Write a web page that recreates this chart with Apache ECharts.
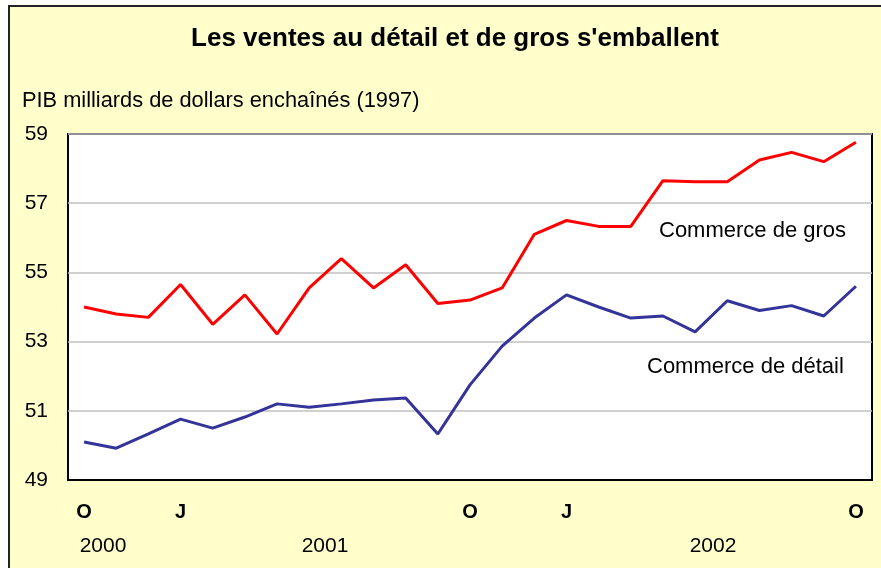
<!DOCTYPE html>
<html>
<head>
<meta charset="utf-8">
<script src="https://cdn.jsdelivr.net/npm/echarts@6/dist/echarts.min.js"></script>
<style>
  html, body { margin: 0; padding: 0; background: #fff; }
  #chart { width: 881px; height: 568px; }
</style>
</head>
<body>
<div id="chart"></div>
<script>
// mois d'octobre 2000 à octobre 2002
var months = ['O','N','D','J','F','M','A','M','J','J','A','S','O','N','D','J','F','M','A','M','J','J','A','S','O'];
var shownMonths = [0, 3, 12, 15, 24];   // seuls O et J sont affichés
var years = ['2000', '2001', '2002'];

// PIB, milliards de dollars enchaînés (1997)
var gros = [54.0, 53.8, 53.7, 54.65, 53.5, 54.35, 53.22, 54.55, 55.4, 54.55, 55.22, 54.1,
            54.2, 54.55, 56.1, 56.5, 56.33, 56.33, 57.65, 57.62, 57.62, 58.25, 58.47, 58.2, 58.76];
var detail = [50.1, 49.92, 50.33, 50.76, 50.5, 50.82, 51.2, 51.1, 51.2, 51.31, 51.37, 50.33,
              51.75, 52.87, 53.68, 54.35, 54.0, 53.68, 53.74, 53.28, 54.18, 53.9, 54.04, 53.74, 54.6];

var font = '"Liberation Sans", Arial, sans-serif';
var chart = echarts.init(document.getElementById('chart'));

function txt(x, y, s, size, align, bold) {
    return {
        type: 'text', x: x, y: y,
        style: {
            text: s, font: (bold ? 'bold ' : '') + size + 'px ' + font, fill: '#000',
            align: align, verticalAlign: 'middle'
        }
    };
}

var option = {
    backgroundColor: '#fff',
    animation: false,
    textStyle: { fontFamily: font },
    graphic: [
        {
            type: 'rect', z: -10,
            shape: { x: 9, y: 6, width: 900, height: 600 },
            style: { fill: '#FFFFCC', stroke: '#222', lineWidth: 2 }
        },
        txt(455, 39, "Les ventes au détail et de gros s'emballent", 26, 'center', true),
        txt(22, 101, 'PIB milliards de dollars enchaînés (1997)', 21.8, 'left'),
        txt(659, 231, 'Commerce de gros', 22, 'left'),
        txt(647, 367, 'Commerce de détail', 22, 'left'),
        txt(103, 546, years[0], 21, 'center'),
        txt(325, 546, years[1], 21, 'center'),
        txt(713, 546, years[2], 21, 'center')
    ],
    grid: {
        left: 68, right: 9, top: 134, bottom: 88,
        show: true, backgroundColor: '#fff', borderColor: '#000', borderWidth: 2
    },
    xAxis: {
        type: 'category',
        data: months,
        boundaryGap: true,
        axisLine: { lineStyle: { color: '#000', width: 2 } },
        axisTick: { inside: true, length: 7, interval: 0, lineStyle: { color: '#000', width: 1.5 } },
        axisLabel: {
            interval: function (i) { return shownMonths.indexOf(i) >= 0; },
            margin: 22,
            fontSize: 20, fontWeight: 'bold', color: '#000'
        }
    },
    yAxis: {
        type: 'value',
        min: 49, max: 59, interval: 2,
        axisLine: { show: false },
        axisTick: { show: false },
        axisLabel: { fontSize: 21, color: '#000', margin: 20 },
        splitLine: { lineStyle: { color: '#C0C0C0', width: 1.5 } }
    },
    series: [
        {
            name: 'Commerce de gros', type: 'line', data: gros,
            symbol: 'none', lineStyle: { color: '#FF0000', width: 3 }
        },
        {
            name: 'Commerce de détail', type: 'line', data: detail,
            symbol: 'none', lineStyle: { color: '#333399', width: 3 }
        }
    ]
};
chart.setOption(option);
</script>
</body>
</html>
